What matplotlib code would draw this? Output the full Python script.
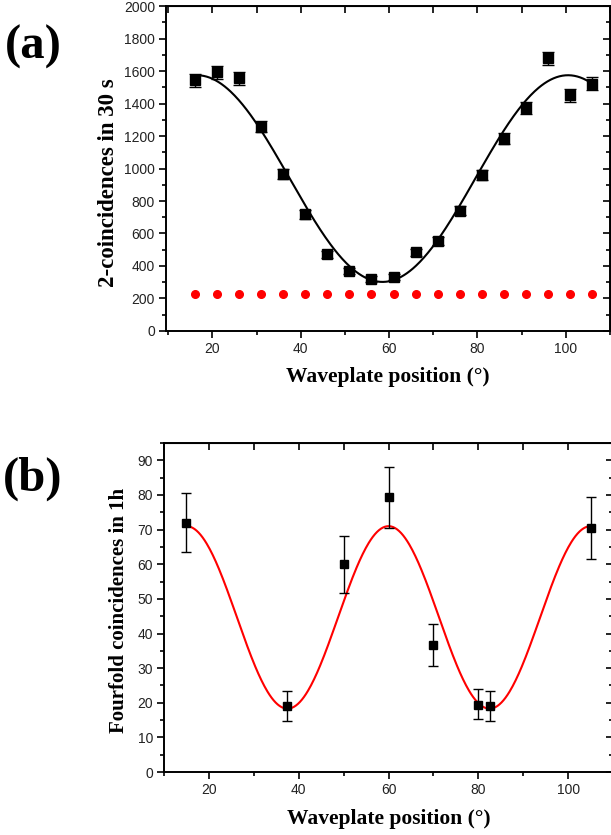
import numpy as np
import matplotlib
matplotlib.use("Agg")
import matplotlib.pyplot as plt
from matplotlib.ticker import MultipleLocator

# panel (a): 2-fold coincidences
angle_a = [16, 21, 26, 31, 36, 41, 46, 51, 56, 61, 66, 71, 76, 81, 86, 91, 96, 101, 106]
counts_a = [1543, 1592, 1555, 1257, 965, 718, 473, 367, 321, 330, 484, 552, 741, 961,
            1183, 1373, 1677, 1450, 1523]
err_a = [39, 40, 39, 35, 31, 27, 22, 19, 18, 18, 22, 24, 27, 31, 34, 37, 41, 38, 39]
background_a = [225] * len(angle_a)
# fit: offset, amplitude, period, position of maximum
fit_a = (938, 636, 84.0, 100.5)

# panel (b): fourfold coincidences
angle_b = [15, 37.5, 50, 60, 70, 80, 82.5, 105]
counts_b = [72.0, 19.0, 60.0, 79.3, 36.7, 19.5, 19.2, 70.4]
err_lo_b = [8.5, 4.3, 8.3, 8.8, 6.0, 4.3, 4.4, 9.0]
err_hi_b = [8.5, 4.3, 8.3, 8.7, 6.1, 4.5, 4.3, 8.9]
fit_b = (44.65, 26.35, 45.0, 15.0)

serif = "Liberation Serif"
sans = "Liberation Sans"


def fit_curve(params, x):
    off, amp, per, x0 = params
    return off + amp * np.cos(2 * np.pi * (x - x0) / per)


def style_axes(ax, xmaj, xmin, ymaj, ymin, top_step, right_maj, right_min):
    for s in ax.spines.values():
        s.set_linewidth(1.4)
    ax.xaxis.set_major_locator(MultipleLocator(xmaj))
    ax.xaxis.set_minor_locator(MultipleLocator(xmin))
    ax.yaxis.set_major_locator(MultipleLocator(ymaj))
    ax.yaxis.set_minor_locator(MultipleLocator(ymin))
    ax.tick_params(which="major", direction="out", length=5, width=1.2,
                   labelsize=10, labelcolor="#222222", pad=3)
    ax.tick_params(which="minor", direction="out", length=3, width=1.2)
    for lab in ax.get_xticklabels() + ax.get_yticklabels():
        lab.set_fontfamily(sans)

    top = ax.secondary_xaxis("top")
    top.xaxis.set_major_locator(MultipleLocator(top_step))
    top.tick_params(direction="in", length=5, width=1.2, labeltop=False)
    right = ax.secondary_yaxis("right")
    right.yaxis.set_major_locator(MultipleLocator(right_maj))
    right.yaxis.set_minor_locator(MultipleLocator(right_min))
    right.tick_params(which="major", direction="in", length=5, width=1.2, labelright=False)
    right.tick_params(which="minor", direction="in", length=3, width=1.2)


fig = plt.figure(figsize=(6.11, 8.35), dpi=100)

# ---- (a)
ax1 = fig.add_axes([0.2717, 0.6036, 0.7267, 0.3892])
xs = np.linspace(angle_a[0], angle_a[-1], 400)
ax1.plot(xs, fit_curve(fit_a, xs), color="black", lw=1.5)
ax1.errorbar(angle_a, counts_a, yerr=err_a, fmt="s", color="black", ms=6.5,
             ecolor="black", elinewidth=1.0, capsize=4, capthick=1.0)
ax1.plot(angle_a, background_a, "o", color="red", ms=5.5)
ax1.set_xlim(9.5, 110)
ax1.set_ylim(0, 2000)
style_axes(ax1, 20, 10, 200, 100, 10, 200, 100)
ax1.set_xlabel("Waveplate position (°)", fontfamily=serif, fontweight="bold", fontsize=15.5)
ax1.xaxis.set_label_coords(0.5, -0.112)
ax1.set_ylabel("2-coincidences in 30 s", fontfamily=serif, fontweight="bold", fontsize=16.5)
ax1.yaxis.set_label_coords(-0.105, 0.455)
fig.text(0.054, 0.944, "(a)", fontfamily=serif, fontweight="bold", fontsize=35,
         ha="center", va="center")

# ---- (b)
ax2 = fig.add_axes([0.2684, 0.0754, 0.735, 0.394])
xs = np.linspace(angle_b[0], angle_b[-1], 400)
ax2.plot(xs, fit_curve(fit_b, xs), color="red", lw=1.5)
ax2.errorbar(angle_b, counts_b, yerr=[err_lo_b, err_hi_b], fmt="s", color="black", ms=5.5,
             ecolor="black", elinewidth=1.0, capsize=3.5, capthick=1.0)
ax2.set_xlim(10, 110)
ax2.set_ylim(0, 95)
style_axes(ax2, 20, 10, 10, 5, 10, 10, 5)
ax2.set_xlabel("Waveplate position (°)", fontfamily=serif, fontweight="bold", fontsize=15.5)
ax2.xaxis.set_label_coords(0.5, -0.113)
ax2.set_ylabel("Fourfold coincidences in 1h", fontfamily=serif, fontweight="bold", fontsize=15)
ax2.yaxis.set_label_coords(-0.077, 0.49)
fig.text(0.054, 0.427, "(b)", fontfamily=serif, fontweight="bold", fontsize=35,
         ha="center", va="center")

fig.savefig("out.png", dpi=100)
